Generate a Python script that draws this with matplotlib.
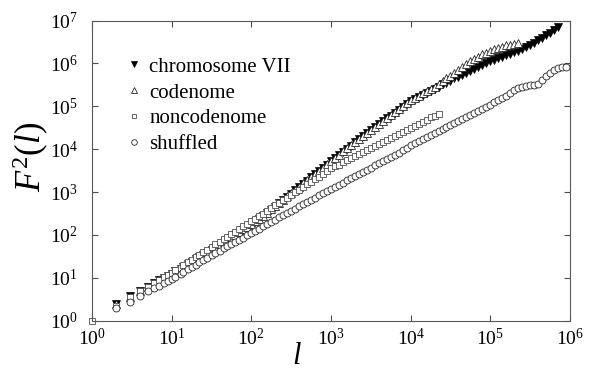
import matplotlib
matplotlib.use('Agg')
import matplotlib.pyplot as plt
from matplotlib.ticker import NullLocator

plt.rcParams['font.family'] = ['Liberation Serif', 'DejaVu Serif']
plt.rcParams['mathtext.fontset'] = 'custom'
plt.rcParams['mathtext.rm'] = 'Liberation Serif'
plt.rcParams['mathtext.it'] = 'Liberation Serif:italic'
plt.rcParams['mathtext.bf'] = 'Liberation Serif:bold'

# === data: window size l and F^2(l) ===
l_vals = [1, 2, 3, 4, 5, 6, 7, 8, 9, 10,
          11, 13, 14, 16, 18, 20, 22, 25, 28, 32, 35, 40, 45, 50, 56, 63, 71, 79, 89,
          100, 112, 126, 141, 158, 178, 200, 224, 251, 282, 316, 355, 398, 447, 501, 562, 631, 708, 794, 891,
          1000, 1122, 1259, 1413, 1585, 1778, 1995, 2239, 2512, 2818, 3162, 3548, 3981, 4467, 5012, 5623,
          6310, 7079, 7943, 8913,
          10000, 11220, 12590, 14130, 15850, 17780, 19950, 22390, 25120, 28180, 31620, 35480, 39810, 44670,
          50120, 56230, 63100, 70790, 79430, 89130,
          100000, 112200, 125900, 141300, 158500, 177800, 199500, 223900, 251200, 281800, 316200, 354800,
          398100, 446700, 501200, 562300, 631000, 707900, 794300, 891300]

# chromosome VII starts at l=2
chromosome = [2.5, 3.7, 5.0, 6.2, 7.4, 8.7, 10.0, 11.2, 12.6,
              14.1, 16.2, 18.2, 20.9, 23.4, 26.9, 30.2, 34.7, 38.9, 44.7, 50.1, 57.5, 64.6, 74.1, 85.1, 97.7,
              112, 129, 148,
              170, 200, 234, 275, 331, 389, 457, 550, 646, 776, 912, 1096, 1288, 1549, 1820, 2188, 2570, 3090,
              3715, 4365,
              5248, 6166, 7413, 8710, 10230, 12020, 14450, 16980, 19950, 23990, 28180, 33110, 38020, 44670,
              52480, 60260, 70790, 83180, 97720, 112200,
              131800, 147900, 166000, 186200, 204200, 229100, 257000, 288400, 323600, 354800, 398100, 446700,
              489800, 549500, 602600, 676100, 741300, 831800, 912000, 1023000,
              1122000, 1230000, 1318000, 1413000, 1549000, 1660000, 1820000, 1995000, 2188000, 2399000,
              2630000, 3020000, 3467000, 3981000, 4571000, 5248000, 6166000, 7244000]

# codenome starts at l=2
codenome = [2.4, 3.6, 4.9, 6.0, 7.2, 8.5, 9.8, 11.0, 12.3,
            14.8, 17.0, 19.1, 21.9, 24.5, 28.2, 31.6, 36.3, 40.7, 46.8, 52.5, 60.3, 67.6, 77.6, 89.1, 102,
            117, 135, 155,
            178, 209, 240, 282, 331, 398, 468, 562, 661, 794, 933, 1122, 1318, 1585, 1862, 2239, 2630, 3162,
            3715, 4467,
            5248, 6310, 7413, 8913, 10470, 12300, 14790, 17380, 20420, 23990, 28180, 33110, 38900, 45710,
            53700, 61660, 72440, 85110, 100000, 117500,
            138000, 154900, 177800, 199500, 223900, 257000, 288400, 331100, 380200, 446700, 512900, 602600,
            707900, 831800, 977200, 1122000, 1259000, 1445000, 1622000, 1778000,
            1950000, 2138000, 2291000, 2455000, 2630000, 2754000, 2884000, 2951000]

# noncodenome starts at l=1
noncodenome = [1.0, 2.24, 3.55, 4.9, 6.17, 7.41, 8.91, 10.2, 11.7, 13.2,
               15.1, 17.4, 20.0, 22.9, 26.3, 30.2, 34.7, 39.8, 45.7, 52.5, 60.3, 69.2, 79.4, 91.2, 105,
               120, 138, 158, 182,
               209, 240, 275, 316, 363, 427, 490, 562, 646, 741, 851, 977, 1122, 1318, 1514, 1738, 1995,
               2291, 2630, 3090,
               3548, 3981, 4365, 4898, 5495, 6166, 6761, 7586, 8511, 9550, 10470, 11750, 13180, 14790,
               16220, 18200, 20420, 22910, 25120, 28180,
               31620, 35480, 38900, 43650, 48980, 54950, 60260, 67610]

# shuffled starts at l=2
shuffled = [2.0, 2.8, 3.8, 4.8, 5.75, 6.6, 7.6, 8.5, 9.5,
            10.6, 12.3, 14.0, 15.8, 18.0, 20.4, 23.2, 26.3, 29.5, 33.5, 38.0, 42.6, 48.5, 54.3, 61.6,
            69.2, 77.6, 87.0, 97.7,
            110, 124, 140, 158, 178, 201, 227, 257, 288, 324, 368, 412, 462, 525, 589, 660, 741, 832,
            933, 1047,
            1175, 1318, 1479, 1660, 1862, 2089, 2344, 2630, 2951, 3311, 3715, 4169, 4677, 5248, 5888,
            6607, 7413, 8318, 9333, 10470,
            12300, 13800, 15500, 17400, 19500, 21600, 24000, 26600, 29500, 32600, 36300, 40300, 44700,
            49900, 55600, 62000, 69200, 77600, 87000, 97700,
            110000, 125000, 141000, 158000, 178000, 205000, 240000, 269000, 288000, 302000, 309000,
            316000, 339000, 407000, 501000, 603000, 708000, 776000, 813000, 832000]

x_ticks = [1e0, 1e1, 1e2, 1e3, 1e4, 1e5, 1e6]
y_ticks = [1e0, 1e1, 1e2, 1e3, 1e4, 1e5, 1e6, 1e7]

fig = plt.figure(figsize=(5.92, 3.73), dpi=100)
ax = fig.add_axes([0.1554, 0.1402, 0.8074, 0.8048])

ax.plot(l_vals[1:1 + len(chromosome)], chromosome, ls='none', marker='v', ms=5.2,
        color='black', mew=0.5, clip_on=False, label='chromosome VII')
ax.plot(l_vals[1:1 + len(codenome)], codenome, ls='none', marker='^', ms=5.2,
        mfc='white', mec='0.15', mew=0.6, clip_on=False, label='codenome')
ax.plot(l_vals[:len(noncodenome)], noncodenome, ls='none', marker='s', ms=4.2,
        mfc='white', mec='0.3', mew=0.6, clip_on=False, label='noncodenome')
ax.plot(l_vals[1:1 + len(shuffled)], shuffled, ls='none', marker='o', ms=5.0,
        mfc='white', mec='0.15', mew=0.6, clip_on=False, label='shuffled')

ax.set_xscale('log')
ax.set_yscale('log')
ax.set_xticks(x_ticks)
ax.set_yticks(y_ticks)
ax.xaxis.set_minor_locator(NullLocator())
ax.yaxis.set_minor_locator(NullLocator())
ax.set_xlim(x_ticks[0], x_ticks[-1])
ax.set_ylim(y_ticks[0], y_ticks[-1])

ax.tick_params(which='both', direction='in', top=True, right=True, length=4,
               width=0.8, labelsize=14, color='0.3')
ax.tick_params(axis='x', pad=5)
ax.tick_params(axis='y', pad=10)
for sp in ax.spines.values():
    sp.set_linewidth(0.8)
    sp.set_color('0.35')

ax.set_xlabel('$l$', fontsize=22)
ax.set_ylabel('$F^2(l)$', fontsize=25)
ax.xaxis.set_label_coords(0.429, -0.072)
ax.yaxis.set_label_coords(-0.085, 0.545)

ax.legend(loc='upper left', bbox_to_anchor=(0.068, 0.878), frameon=False, fontsize=15,
          handlelength=0.9, handletextpad=0.3, labelspacing=0.3, markerscale=0.8,
          borderaxespad=0, borderpad=0)

plt.savefig('out.png', dpi=100)
plt.close()
